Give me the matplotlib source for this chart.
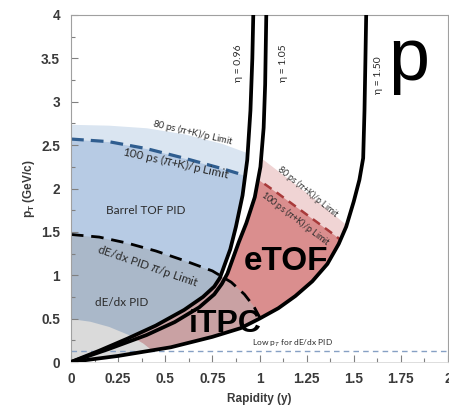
import matplotlib
matplotlib.use("Agg")
import matplotlib.pyplot as plt
from matplotlib.patches import Polygon
from matplotlib.ticker import MultipleLocator, FixedLocator, FixedFormatter

# ---------------- data ----------------
# pseudorapidity acceptance curves (rapidity y, pT)
eta096_y = [0, 0.15, 0.30, 0.45, 0.60, 0.70, 0.76, 0.79, 0.82, 0.845, 0.875, 0.91, 0.935, 0.952, 0.962, 0.967]
eta096_pt = [0, 0.13, 0.27, 0.42, 0.60, 0.75, 0.87, 0.97, 1.15, 1.30, 1.56, 1.92, 2.33, 2.90, 3.50, 4.00]

eta105_y = [0, 0.20, 0.40, 0.55, 0.68, 0.76, 0.80, 0.83, 0.86, 0.89, 0.93, 0.975, 1.005, 1.022, 1.030, 1.036]
eta105_pt = [0, 0.15, 0.31, 0.46, 0.63, 0.78, 0.90, 1.02, 1.20, 1.38, 1.60, 1.90, 2.25, 2.70, 3.20, 4.00]

eta150_y = [0, 0.25, 0.53, 0.75, 0.90, 1.00, 1.10, 1.19, 1.28, 1.36, 1.42, 1.46, 1.50, 1.53, 1.55, 1.557, 1.562, 1.566]
eta150_pt = [0, 0.07, 0.17, 0.29, 0.39, 0.50, 0.62, 0.76, 0.93, 1.13, 1.36, 1.56, 1.85, 2.10, 2.35, 2.90, 3.50, 4.00]

# barrel TOF limits
tof80_y = [0, 0.2, 0.4, 0.6, 0.8, 1.0]
tof80_pt = [2.74, 2.73, 2.70, 2.63, 2.52, 2.36]
tof100_y = [0, 0.2, 0.4, 0.6, 0.8, 1.0]
tof100_pt = [2.57, 2.54, 2.46, 2.35, 2.23, 2.10]

# dE/dx pi/p limit
dedx_y = [0, 0.15, 0.30, 0.45, 0.60, 0.75, 0.85, 0.92, 0.97, 1.01, 1.05]
dedx_pt = [1.47, 1.44, 1.37, 1.28, 1.17, 1.05, 0.92, 0.78, 0.64, 0.48, 0.38]

# low-pT grey region
low_y = [0, 0.10, 0.20, 0.30, 0.38, 0.45]
low_pt = [0.50, 0.47, 0.41, 0.32, 0.22, 0.10]

# eTOF limits
etof80_y = [0.70, 0.95, 1.10, 1.25, 1.40, 1.55]
etof80_pt = [2.80, 2.45, 2.20, 1.95, 1.69, 1.42]
etof100_y = [0.70, 0.95, 1.10, 1.25, 1.40, 1.55]
etof100_pt = [2.55, 2.17, 1.94, 1.70, 1.46, 1.20]

low_pt_cut = 0.13

xticks = [0, 0.25, 0.5, 0.75, 1, 1.25, 1.5, 1.75, 2]
xticklabels = ["0", "0.25", "0.5", "0.75", "1", "1.25", "1.5", "1.75", "2"]
yticks = [0, 0.5, 1, 1.5, 2, 2.5, 3, 3.5, 4]
yticklabels = ["0", "0.5", "1", "1.5", "2", "2.5", "3", "3.5", "4"]

# ---------------- style ----------------
plt.rcParams["font.family"] = ["Liberation Sans", "DejaVu Sans"]
plt.rcParams["mathtext.fontset"] = "custom"
plt.rcParams["mathtext.rm"] = "Liberation Sans"
plt.rcParams["mathtext.it"] = "Liberation Sans:italic"
plt.rcParams["mathtext.bf"] = "Liberation Sans:bold"

ANN = ["Lato", "DejaVu Sans"]
TXT = "#2b2b2b"

fig = plt.figure(figsize=(4.49, 4.08), dpi=100)
ax = fig.add_axes([71 / 449, 46 / 408, 377 / 449, 347 / 408])
ax.set_xlim(0, 2)
ax.set_ylim(0, 4)

T = ax.transData
polyA = Polygon(list(zip(eta096_y, eta096_pt)) + [(0, 4.0)], closed=True, transform=T)
polyB = Polygon(list(zip(eta105_y, eta105_pt)) + list(zip(eta150_y, eta150_pt))[::-1], closed=True, transform=T)
polyC = Polygon(list(zip(eta096_y, eta096_pt)) + list(zip(eta150_y, eta150_pt))[::-1], closed=True, transform=T)
polyD = Polygon(list(zip(eta150_y, eta150_pt)) + [(0, 4.0)], closed=True, transform=T)

# blue (barrel) regions
f = ax.fill_between(tof80_y, 0, tof80_pt, color="#dae5f1", lw=0, zorder=1)
f.set_clip_path(polyA)
f = ax.fill_between(tof100_y, 0, tof100_pt, color="#b7cbe4", lw=0, zorder=1.1)
f.set_clip_path(polyA)
f = ax.fill_between(dedx_y, 0, dedx_pt, color="#aab8c9", lw=0, zorder=1.2)
f.set_clip_path(polyA)

# eTOF regions
f = ax.fill_between(etof80_y, 0, etof80_pt, color="#f0d4d4", lw=0, zorder=1)
f.set_clip_path(polyB)
f = ax.fill_between(etof100_y, 0, etof100_pt, color="#da8e8e", lw=0, zorder=1.1)
f.set_clip_path(polyB)

# iTPC region
f = ax.fill_between(dedx_y, 0, dedx_pt, color="#c9a1a3", lw=0, zorder=1.3)
f.set_clip_path(polyC)

# low pT grey
f = ax.fill_between(low_y, 0, low_pt, color="#dadada", lw=0, zorder=1.4)
f.set_clip_path(polyD)

# dashed limits
l, = ax.plot(tof100_y, tof100_pt, color="#2f5d8f", lw=2.3, dashes=(4, 2.2), zorder=2)
l.set_clip_path(polyA)
l, = ax.plot(dedx_y, dedx_pt, color="black", lw=2.0, dashes=(4.5, 2.8), zorder=2)
l.set_clip_path(polyD)
l, = ax.plot(etof100_y, etof100_pt, color="#a83a3a", lw=1.8, dashes=(3.5, 2.5), zorder=2)
l.set_clip_path(polyB)
ax.axhline(low_pt_cut, color="#86a0c4", lw=1.0, dashes=(4, 3), zorder=2.5)

# eta curves
for xs, ys in [(eta096_y, eta096_pt), (eta105_y, eta105_pt), (eta150_y, eta150_pt)]:
    ax.plot(xs, ys, color="black", lw=2.7, solid_joinstyle="round", solid_capstyle="round", zorder=3)

# annotations
ax.text(0.646, 2.64, r"80 ps ($\pi$+K)/p Limit", rotation=-13, fontsize=6.8, family=ANN,
        color=TXT, ha="center", va="center", zorder=4)
ax.text(0.56, 2.29, r"100 ps ($\pi$+K)/p Limit", rotation=-12.5, fontsize=8.5, family=ANN,
        color=TXT, ha="center", va="center", zorder=4)
ax.text(0.395, 1.75, "Barrel TOF PID", fontsize=8.5, family=ANN, color=TXT,
        ha="center", va="center", zorder=4)
ax.text(0.41, 1.10, r"dE/dx PID $\pi$/p Limit", rotation=-19, fontsize=8.5, family=ANN,
        color=TXT, ha="center", va="center", zorder=4)
ax.text(0.27, 0.69, "dE/dx PID", fontsize=8.5, family=ANN, color=TXT,
        ha="center", va="center", zorder=4)
ax.text(1.26, 1.96, r"80 ps ($\pi$+K)/p Limit", rotation=-39, fontsize=6.3, family=ANN,
        color=TXT, ha="center", va="center", zorder=4)
ax.text(1.19, 1.65, r"100 ps ($\pi$+K)/p Limit", rotation=-37, fontsize=6.5, family=ANN,
        color=TXT, ha="center", va="center", zorder=4)
ax.text(1.175, 0.22, r"Low p$_T$ for dE/dx PID", fontsize=6, family=ANN, color=TXT,
        ha="center", va="center", zorder=4)
ax.text(0.889, 3.45, "η = 0.96", rotation=90, fontsize=7.5, family=ANN, color=TXT,
        ha="center", va="center", zorder=4)
ax.text(1.127, 3.45, "η = 1.05", rotation=90, fontsize=7.5, family=ANN, color=TXT,
        ha="center", va="center", zorder=4)
ax.text(1.63, 3.31, "η = 1.50", rotation=90, fontsize=7.5, family=ANN, color=TXT,
        ha="center", va="center", zorder=4)
ax.text(1.793, 3.48, "p", fontsize=53, color="black", ha="center", va="center", zorder=4)
ax.text(1.138, 1.16, "eTOF", fontsize=24, fontweight="bold", color="black",
        ha="center", va="center", zorder=4)
ax.text(0.82, 0.44, "iTPC", fontsize=23, fontweight="bold", color="black",
        ha="center", va="center", zorder=4)

# axes styling
for s in ["left", "top", "right"]:
    ax.spines[s].set_color("#a0a0a0")
    ax.spines[s].set_linewidth(0.8)
ax.spines["bottom"].set_color("#d8d8d8")
ax.spines["bottom"].set_linewidth(0.6)

ax.xaxis.set_major_locator(FixedLocator(xticks))
ax.xaxis.set_major_formatter(FixedFormatter(xticklabels))
ax.yaxis.set_major_locator(FixedLocator(yticks))
ax.yaxis.set_major_formatter(FixedFormatter(yticklabels))
ax.xaxis.set_minor_locator(MultipleLocator(0.125))
ax.yaxis.set_minor_locator(MultipleLocator(0.25))
ax.tick_params(which="both", direction="in", color="#808080", top=False, right=False)
ax.tick_params(which="major", length=5, width=0.8)
ax.tick_params(which="minor", length=3, width=0.8)
ax.tick_params(axis="x", pad=7)
ax.tick_params(axis="y", pad=8)
for lab in ax.get_xticklabels() + ax.get_yticklabels():
    lab.set_fontweight("bold")
    lab.set_fontsize(9.8)
    lab.set_color("#3a3a3a")

ax.set_xlabel("Rapidity (y)", fontsize=8.5, fontweight="bold", color="#3a3a3a", labelpad=5)
ax.set_ylabel(r"$\mathbf{p_T}$ (GeV/c)", fontsize=8.5, fontweight="bold", color="#3a3a3a", labelpad=3)

fig.savefig("out.png", dpi=100)
